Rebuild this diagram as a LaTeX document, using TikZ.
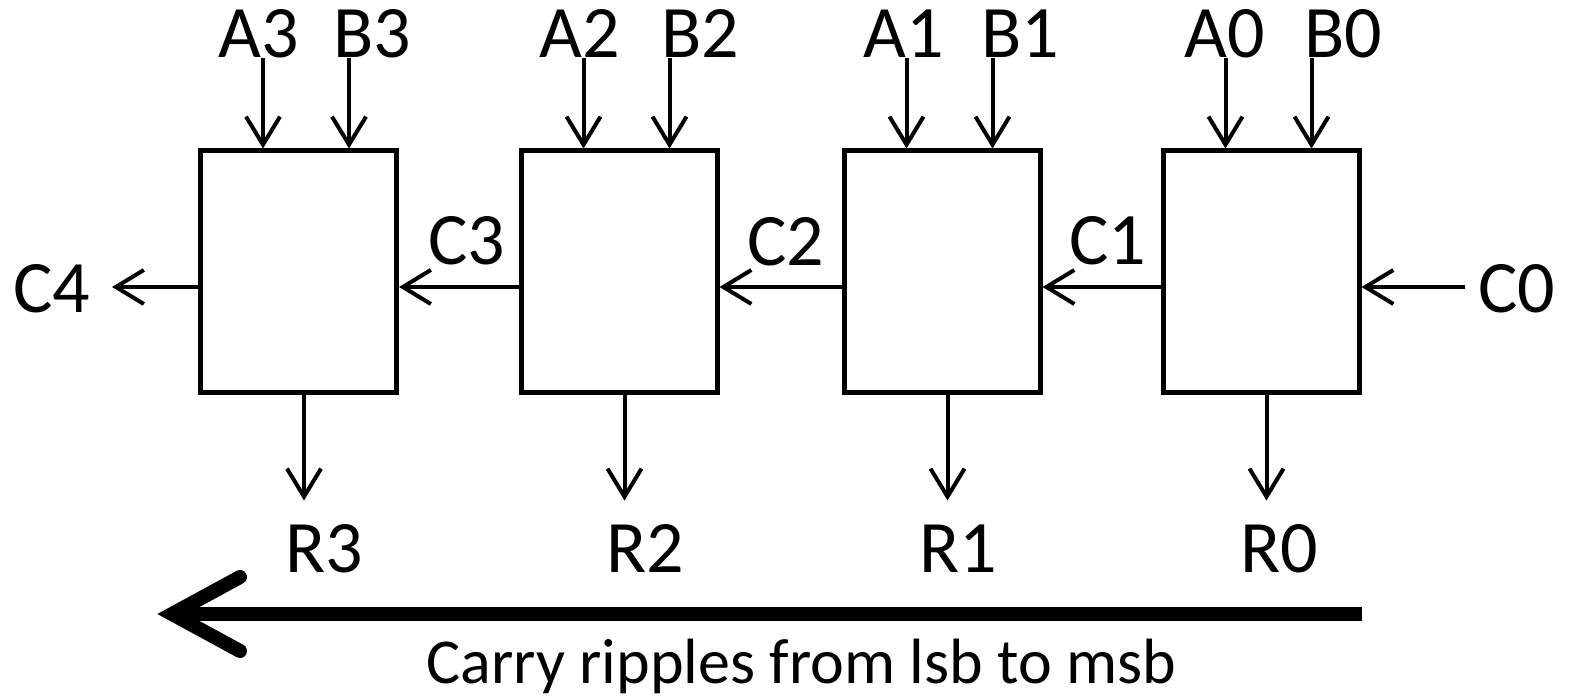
\documentclass[tikz,border=0pt]{standalone}
\usepackage{fontspec}
\setmainfont{Carlito}
\usetikzlibrary{arrows.meta,calc}
\begin{document}
\begin{tikzpicture}[x=0.5pt,y=-0.5pt,
  box/.style={draw,line width=2.5pt,minimum width=98pt,minimum height=121pt,inner sep=0pt},
  lbl/.style={font=\fontsize{37pt}{40pt}\selectfont,inner sep=0pt,anchor=base},
  caplbl/.style={font=\fontsize{32pt}{36pt}\selectfont,inner sep=0pt,anchor=base},
  sig/.style={line width=2pt,-{Straight Barb[length=14pt,width=17pt]}},
  bigline/.style={line width=7pt},
]
\useasboundingbox (0,0) rectangle (1570,699);

% adder boxes
\node[box] (b3) at (298.5,272) {};
\node[box] (b2) at (619,272) {};
\node[box] (b1) at (942,272) {};
\node[box] (b0) at (1261,272) {};

% input labels
\node[lbl] (A3) at (258.5,58) {A3};
\node[lbl] (B3) at (372.5,58) {B3};
\node[lbl] (A2) at (580,58) {A2};
\node[lbl] (B2) at (700,58) {B2};
\node[lbl] (A1) at (904,58) {A1};
\node[lbl] (B1) at (1020,58) {B1};
\node[lbl] (A0) at (1225,58) {A0};
\node[lbl] (B0) at (1343,58) {B0};

% carry labels
\node[lbl] (C4) at (51.5,313) {C4};
\node[lbl] (C3) at (467,265) {C3};
\node[lbl] (C2) at (785.5,266) {C2};
\node[lbl] (C1) at (1107.5,265) {C1};
\node[lbl] (C0) at (1517,313) {C0};

% result labels
\node[lbl] (R3) at (324,573) {R3};
\node[lbl] (R2) at (645,573) {R2};
\node[lbl] (R1) at (958,573) {R1};
\node[lbl] (R0) at (1279,573) {R0};

% input and result arrows
\foreach \b in {3,2,1,0}{
  \draw[sig] ($(b\b.north west)+(65,-90)$) -- ($(b\b.north west)+(65,0)$);
  \draw[sig] ($(b\b.north west)+(151,-90)$) -- ($(b\b.north west)+(151,0)$);
  \draw[sig] ($(b\b.south west)+(106,0)$) -- ($(b\b.south west)+(106,105)$);
}

% carry arrows
\coordinate (c4end) at (112,287);
\coordinate (c0start) at (1465,287);
\draw[sig] ($(b3.west)+(0,15)$) -- (c4end);
\draw[sig] ($(b2.west)+(0,15)$) -- ($(b3.east)+(0,15)$);
\draw[sig] ($(b1.west)+(0,15)$) -- ($(b2.east)+(0,15)$);
\draw[sig] ($(b0.west)+(0,15)$) -- ($(b1.east)+(0,15)$);
\draw[sig] (c0start) -- ($(b0.east)+(0,15)$);

% big ripple arrow
\coordinate (bigS) at (1362,614);
\coordinate (bigT) at (172,614);
\coordinate (armU) at (240,577);
\coordinate (armD) at (240,651);
\draw[bigline] (bigS) -- (bigT);
\draw[bigline,line cap=round,line join=miter] (armU) -- (bigT) -- (armD);

\node[caplbl] (cap) at (801.5,684) {Carry ripples from lsb to msb};
\end{tikzpicture}
\end{document}
